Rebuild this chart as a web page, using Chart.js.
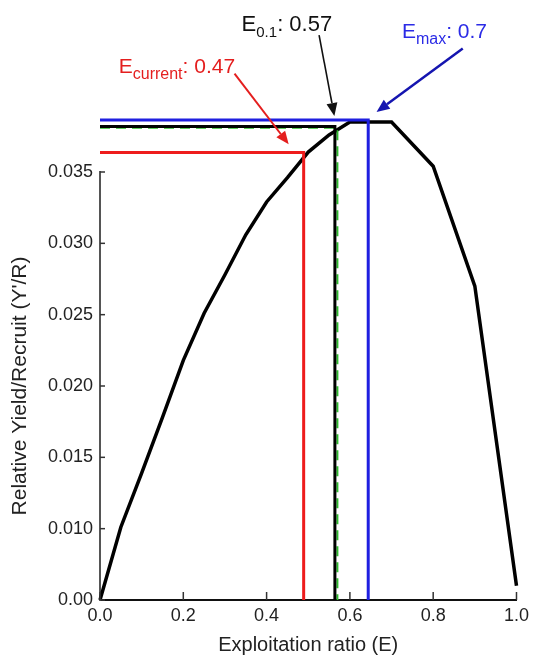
<!DOCTYPE html>
<html>
<head>
<meta charset="utf-8">
<script src="https://cdn.jsdelivr.net/npm/chart.js@4.4.0/dist/chart.umd.min.js"></script>
<style>
  html, body { margin: 0; padding: 0; background: #fff; }
  #wrap { width: 534px; height: 657px; }
</style>
</head>
<body>
<div id="wrap"><canvas id="ypr"></canvas></div>
<script>
// Exploitation ratio (E) vs relative yield per recruit.
// Note: the bottom tick of the y axis is labelled "0.00" but sits one 0.005 step under 0.010,
// so values are kept in the axis' own units.
const exploitation = [0.0, 0.05, 0.1, 0.15, 0.2, 0.25, 0.3, 0.35, 0.4, 0.45, 0.5, 0.55, 0.6, 0.7, 0.8, 0.9, 1.0];
const yieldPerRecruit = [0.005, 0.0101, 0.0139, 0.0178, 0.0218, 0.0251, 0.0278, 0.0306, 0.0329, 0.0346, 0.0364, 0.0376, 0.0385, 0.0385, 0.0354, 0.0270, 0.0060];

// reference points: E_max, E_0.1, E_0.1 (green dashed copy), E_current
const refE = [0.644, 0.564, 0.570, 0.489];
const refY = [0.03865, 0.03819, 0.0381, 0.03636];

// annotation texts
const noteMain = ['E', 'E', 'E'];
const noteSub = ['current', '0.1', 'max'];
const noteValue = [': 0.47', ': 0.57', ': 0.7'];

// ticks
const xTickValues = [0.0, 0.2, 0.4, 0.6, 0.8, 1.0];
const xTickLabels = ['0.0', '0.2', '0.4', '0.6', '0.8', '1.0'];
const yTickValues = [0.005, 0.010, 0.015, 0.020, 0.025, 0.030, 0.035];
const yTickLabels = ['0.00', '0.010', '0.015', '0.020', '0.025', '0.030', '0.035'];

const FONT = "'Liberation Sans', Arial, Helvetica, sans-serif";
const yBottom = yTickValues[0];

// horizontal line from the y axis to the point, then down to the x axis
function bracket(i) {
  return [
    { x: 0, y: refY[i] },
    { x: refE[i], y: refY[i] },
    { x: refE[i], y: yBottom }
  ];
}

const curve = exploitation.map((e, i) => ({ x: e, y: yieldPerRecruit[i] }));

// where the labels and arrows go (in axis units), same order as the note arrays
const noteStyle = [
  { color: '#e41e1e', size: 21, sub: 0.75, tx: 0.045, ty: 0.04193, from: [0.323, 0.0419], to: [0.453, 0.03694], lw: 2 },
  { color: '#111111', size: 22, sub: 0.68, tx: 0.340, ty: 0.04486, from: [0.526, 0.0446], to: [0.5627, 0.03893], lw: 1.6 },
  { color: '#2b2be6', size: 21, sub: 0.75, tx: 0.725, ty: 0.04437, from: [0.871, 0.04366], to: [0.664, 0.03921], lw: 2.5, arrowColor: '#1515b0' }
];

function arrow(ctx, x1, y1, x2, y2, color, lw) {
  const ang = Math.atan2(y2 - y1, x2 - x1);
  const head = 13, half = 5.5;
  const bx = x2 - head * Math.cos(ang), by = y2 - head * Math.sin(ang);
  ctx.strokeStyle = color;
  ctx.fillStyle = color;
  ctx.lineWidth = lw;
  ctx.beginPath();
  ctx.moveTo(x1, y1);
  ctx.lineTo(bx, by);
  ctx.stroke();
  ctx.beginPath();
  ctx.moveTo(x2, y2);
  ctx.lineTo(bx + half * Math.sin(ang), by - half * Math.cos(ang));
  ctx.lineTo(bx - half * Math.sin(ang), by + half * Math.cos(ang));
  ctx.closePath();
  ctx.fill();
}

// inward tick marks + E labels with arrows
const refMarks = {
  id: 'refMarks',
  afterDatasetsDraw(chart) {
    const { ctx, scales: { x, y } } = chart;
    ctx.save();
    ctx.strokeStyle = '#333';
    ctx.lineWidth = 1.5;
    y.ticks.forEach(t => {
      const py = y.getPixelForValue(t.value);
      ctx.beginPath(); ctx.moveTo(x.left, py); ctx.lineTo(x.left + 5, py); ctx.stroke();
    });
    x.ticks.forEach(t => {
      const px = x.getPixelForValue(t.value);
      ctx.beginPath(); ctx.moveTo(px, y.bottom); ctx.lineTo(px, y.bottom - 8); ctx.stroke();
    });

    noteStyle.forEach((s, i) => {
      let px = x.getPixelForValue(s.tx);
      const py = y.getPixelForValue(s.ty);
      ctx.fillStyle = s.color;
      ctx.textBaseline = 'alphabetic';
      ctx.textAlign = 'left';
      ctx.font = s.size + 'px ' + FONT;
      ctx.fillText(noteMain[i], px, py);
      px += ctx.measureText(noteMain[i]).width;
      ctx.font = Math.round(s.size * s.sub) + 'px ' + FONT;
      ctx.fillText(noteSub[i], px, py + 6);
      px += ctx.measureText(noteSub[i]).width;
      ctx.font = s.size + 'px ' + FONT;
      ctx.fillText(noteValue[i], px, py);

      arrow(ctx,
        x.getPixelForValue(s.from[0]), y.getPixelForValue(s.from[1]),
        x.getPixelForValue(s.to[0]), y.getPixelForValue(s.to[1]),
        s.arrowColor || s.color, s.lw);
    });
    ctx.restore();
  }
};

new Chart(document.getElementById('ypr'), {
  type: 'line',
  data: {
    datasets: [
      { label: 'E max', data: bracket(0), borderColor: '#1f1fe0', borderWidth: 3 },
      { label: 'E current', data: bracket(3), borderColor: '#ee1c1c', borderWidth: 3 },
      { label: 'E 0.1', data: bracket(1), borderColor: '#000', borderWidth: 3 },
      { label: 'E 0.1 (dashed)', data: bracket(2), borderColor: '#2dbb2d', borderWidth: 2, borderDash: [10, 6] },
      { label: "Y'/R", data: curve, borderColor: '#000', borderWidth: 3.5 }
    ]
  },
  options: {
    responsive: true,
    maintainAspectRatio: false,
    animation: false,
    layout: { padding: { top: 172, right: 15, left: 0, bottom: 0 } },
    elements: {
      point: { radius: 0 },
      line: { tension: 0, fill: false, borderJoinStyle: 'miter' }
    },
    datasets: { line: { clip: false } },
    plugins: {
      legend: { display: false },
      tooltip: { enabled: false }
    },
    scales: {
      x: {
        type: 'linear',
        min: 0,
        max: 1,
        grid: { display: false, drawTicks: false },
        border: { display: true, color: '#111', width: 2 },
        afterBuildTicks: s => { s.ticks = xTickValues.map(v => ({ value: v })); },
        afterFit: s => { s.height = 57; },
        ticks: {
          padding: 5,
          color: '#222',
          font: { family: FONT, size: 18 },
          callback: (v, i) => xTickLabels[i]
        },
        title: {
          display: true,
          text: 'Exploitation ratio (E)',
          color: '#222',
          font: { family: FONT, size: 20 },
          padding: { top: 0, bottom: 0 }
        }
      },
      y: {
        type: 'linear',
        min: 0.005,
        max: 0.035,
        grid: { display: false, drawTicks: false },
        border: { display: true, color: '#555', width: 2 },
        afterBuildTicks: s => { s.ticks = yTickValues.map(v => ({ value: v })); },
        afterFit: s => { s.width = 100; },
        ticks: {
          padding: 7,
          color: '#222',
          font: { family: FONT, size: 18 },
          callback: (v, i) => yTickLabels[i]
        },
        title: {
          display: true,
          text: "Relative Yield/Recruit (Y'/R)",
          color: '#222',
          font: { family: FONT, size: 21 },
          padding: { top: 8, bottom: 0 }
        }
      }
    }
  },
  plugins: [refMarks]
});
</script>
</body>
</html>
